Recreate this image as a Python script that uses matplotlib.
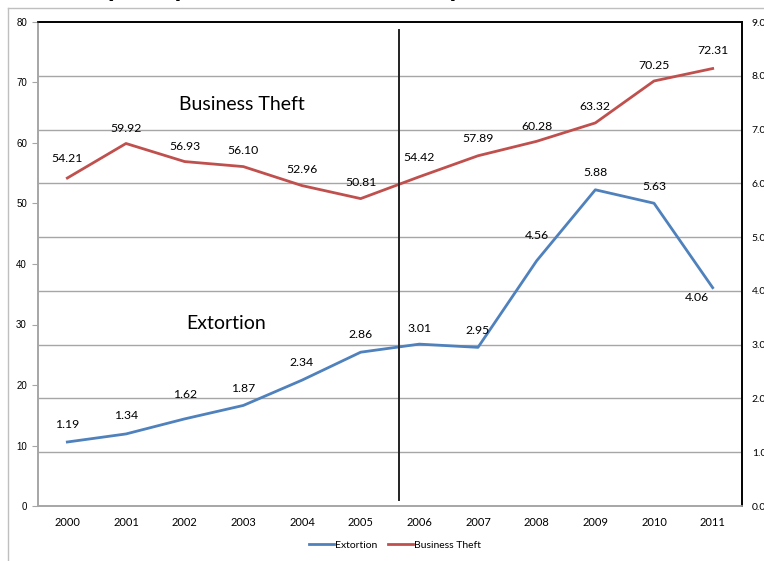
import numpy as np
import matplotlib.pyplot as plt
from matplotlib.lines import Line2D

years = ["2000", "2001", "2002", "2003", "2004", "2005",
         "2006", "2007", "2008", "2009", "2010", "2011"]
business_theft = [54.21, 59.92, 56.93, 56.10, 52.96, 50.81,
                  54.42, 57.89, 60.28, 63.32, 70.25, 72.31]
extortion = [1.19, 1.34, 1.62, 1.87, 2.34, 2.86,
             3.01, 2.95, 4.56, 5.88, 5.63, 4.06]

# label offsets in pixels (dx, dy)
theft_offsets = [(0, 20), (0, 15), (0, 15), (0, 16), (0, 16), (0, 16),
                 (0, 19), (0, 17), (0, 15), (0, 16), (0, 15), (0, 18)]
ext_offsets = [(0, 18), (0, 18), (0, 24), (0, 17), (0, 18), (0, 18),
               (0, 16), (0, 17), (0, 25), (0, 17), (0, 17), (-16, -10)]

BLUE = "#4f81bd"
RED = "#c0504d"
GRID = "#a6a6a6"
LABEL_FONT = ["Lato", "DejaVu Sans"]
TICK_FONT = ["Liberation Sans", "DejaVu Sans"]

fig = plt.figure(figsize=(7.64, 5.61), dpi=100)
ax = fig.add_axes([38 / 764, 1 - 506 / 561, (742 - 38) / 764, (506 - 22) / 561])
ax2 = ax.twinx()

x = np.arange(len(years))

# right axis carries the gridlines
ax2.set_ylim(0, 9)
ax2.set_yticks(np.arange(0, 10, 1))
ax2.set_yticklabels([f"{v:.1f}" for v in range(10)], fontsize=7.5, family=LABEL_FONT)
ax2.tick_params(axis="y", length=0, pad=7)
for v in range(1, 9):
    ax2.axhline(v, color=GRID, lw=1, zorder=0)

ax.set_xlim(-0.5, len(years) - 0.5)
ax.set_ylim(0, 80)
ax.set_yticks(np.arange(0, 81, 10))
ax.set_yticklabels([str(v) for v in range(0, 81, 10)], fontsize=7, family=TICK_FONT)
ax.tick_params(axis="y", length=4, color=GRID, pad=4)
ax.set_xticks(x)
ax.set_xticklabels(years, fontsize=8, family=LABEL_FONT)
ax.tick_params(axis="x", length=0, pad=8)

for a in (ax, ax2):
    a.spines["top"].set_color("black")
    a.spines["right"].set_color("black")
    a.spines["left"].set_color(GRID)
    a.spines["bottom"].set_color(GRID)
    for s in a.spines.values():
        s.set_linewidth(1.2)

ax.set_zorder(ax2.get_zorder() + 1)
ax.patch.set_visible(False)

ax2.plot(x, extortion, color=BLUE, lw=2, zorder=3)
ax.plot(x, business_theft, color=RED, lw=2, zorder=3)

for xi, v, (dx, dy) in zip(x, business_theft, theft_offsets):
    ax.annotate(f"{v:.2f}", (xi, v), xytext=(dx, dy), textcoords="offset pixels",
                ha="center", va="center", fontsize=8.8, family=LABEL_FONT)
for xi, v, (dx, dy) in zip(x, extortion, ext_offsets):
    ax2.annotate(f"{v:.2f}", (xi, v), xytext=(dx, dy), textcoords="offset pixels",
                 ha="center", va="center", fontsize=8.8, family=LABEL_FONT)

# divider between 2005 and 2006
ax.plot([5.65, 5.65], [0.012, 0.983], color="#222222", lw=1.4,
        transform=ax.get_xaxis_transform(), zorder=4)

ax.text(2.98, 66.3, "Business Theft", ha="center", va="center",
        fontsize=14, family=LABEL_FONT)
ax.text(2.71, 30.2, "Extortion", ha="center", va="center",
        fontsize=14, family=LABEL_FONT)

handles = [Line2D([], [], color=BLUE, lw=2), Line2D([], [], color=RED, lw=2)]
fig.legend(handles, ["Extortion", "Business Theft"], loc="center",
           bbox_to_anchor=(395 / 764, 1 - 545 / 561), ncol=2, frameon=False,
           prop={"family": LABEL_FONT, "size": 7.5}, handlelength=2.4,
           handletextpad=0.1, columnspacing=1.0)

# outer chart frame
fig.add_artist(Line2D([8 / 764, 8 / 764], [0, 1 - 8 / 561], color="#bfbfbf",
                      lw=1, transform=fig.transFigure))
fig.add_artist(Line2D([8 / 764, 1], [1 - 8 / 561, 1 - 8 / 561], color="#bfbfbf",
                      lw=1, transform=fig.transFigure))

# title sits mostly above the visible area
fig.text(105 / 764, 1 + 4 / 561, "(Rate per 100,000 inhabitants), 2000-2011",
         ha="left", va="baseline", fontsize=18, fontweight="bold",
         family=["Liberation Sans", "DejaVu Sans"])

fig.savefig("out.png", dpi=100)
